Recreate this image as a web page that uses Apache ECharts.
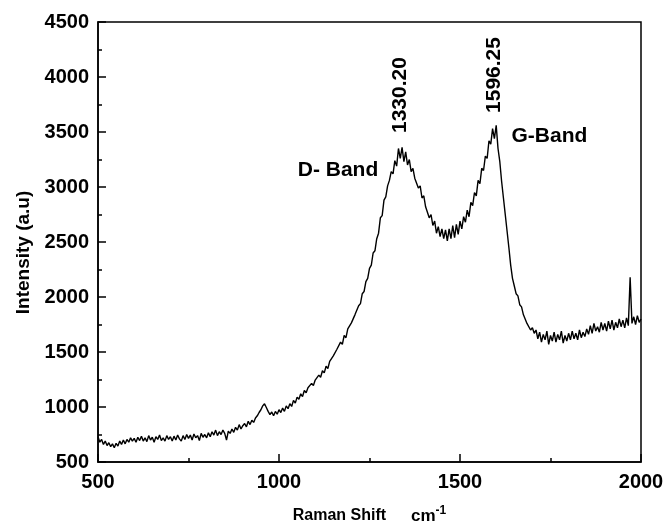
<!DOCTYPE html>
<html>
<head>
<meta charset="utf-8">
<script src="https://cdn.jsdelivr.net/npm/echarts@6/dist/echarts.min.js"></script>
<style>
html,body{margin:0;padding:0;background:#fff;}
#chart{width:667px;height:521px;}
</style>
</head>
<body>
<div id="chart"></div>
<script>
// Raman shift sampling (cm-1): first value and spacing of the intensity readings
const shiftStart = 500;
const shiftStep = 5;

// Intensity readings (a.u.) every 5 cm-1 from 500 to 2000
const intensity500_600 = [730,680,705,660,690,650,675,640,665,630,670,645,690,660,700,665,705,680,720,690,715];
const intensity600_700 = [680,725,695,735,690,720,685,740,700,725,680,730,705,745,695,720,690,740,705,730];
const intensity700_800 = [690,735,700,745,710,690,740,705,750,715,745,700,755,720,740,695,760,725,750,720];
const intensity800_900 = [765,730,775,745,790,740,775,750,790,760,700,780,760,800,770,815,790,840,800,830];
const intensity900_1000 = [850,820,870,840,880,860,900,920,950,975,1010,1030,995,960,930,955,920,960,935,975];
const intensity1000_1100 = [950,990,960,1010,985,1030,1005,1060,1035,1090,1070,1120,1095,1150,1130,1175,1160,1215,1195,1245];
const intensity1100_1200 = [1230,1290,1270,1330,1310,1370,1350,1415,1400,1465,1450,1525,1510,1590,1570,1650,1630,1710,1700,1765];
const intensity1200_1300 = [1780,1840,1845,1920,1940,2030,2050,2140,2170,2260,2290,2400,2420,2530,2580,2720,2740,2880,2910,3010];
const intensity1300_1400 = [3060,3140,3120,3240,3190,3350,3260,3360,3230,3320,3200,3250,3140,3170,3080,3090,2990,3010,2900,2920];
const intensity1400_1500 = [2820,2830,2720,2750,2650,2690,2580,2640,2550,2620,2530,2610,2510,2620,2530,2650,2540,2660,2570,2690];
const intensity1500_1600 = [2620,2730,2680,2790,2730,2860,2830,2950,2920,3060,3030,3170,3150,3280,3260,3420,3390,3530,3440,3560];
const intensity1600_1700 = [3350,3230,3050,2900,2750,2600,2450,2290,2170,2100,2030,2010,1930,1910,1840,1830,1760,1770,1700,1720];
const intensity1700_1800 = [1670,1700,1620,1680,1590,1660,1610,1690,1570,1650,1600,1680,1590,1660,1610,1690,1580,1650,1600,1670];
const intensity1800_1900 = [1610,1690,1620,1670,1610,1700,1630,1680,1640,1710,1660,1740,1670,1760,1690,1730,1680,1770,1700,1760];
const intensity1900_2000 = [1690,1780,1710,1790,1700,1770,1720,1800,1730,1790,1720,1810,1740,2180,1760,1820,1750,1830,1770,1800];

// Axis ticks
const xTicks = [500, 1000, 1500, 2000];
const yTicks = [500, 1000, 1500, 2000, 2500, 3000, 3500, 4000, 4500];

// Annotations: [shift, intensity, text, rotated]
const annotations = [
  [1163, 3155, 'D- Band', false],
  [1747, 3464, 'G-Band', false],
  [1334, 3836, '1330.20', true],
  [1594, 4018, '1596.25', true]
];

const intensity = [].concat(
  intensity500_600, intensity600_700, intensity700_800, intensity800_900,
  intensity900_1000, intensity1000_1100, intensity1100_1200, intensity1200_1300,
  intensity1300_1400, intensity1400_1500, intensity1500_1600, intensity1600_1700,
  intensity1700_1800, intensity1800_1900, intensity1900_2000
);
const spectrum = intensity.map((v, i) => [shiftStart + i * shiftStep, v]);

const FONT = '"Liberation Sans", Arial, sans-serif';
const chart = echarts.init(document.getElementById('chart'), null, {renderer: 'canvas'});

chart.setOption({
  animation: false,
  backgroundColor: '#fff',
  grid: {
    left: 98, right: 26, top: 22, bottom: 59,
    containLabel: false, outerBoundsMode: 'none',
    show: true, borderColor: '#000', borderWidth: 1.5, backgroundColor: 'transparent'
  },
  xAxis: {
    type: 'value',
    min: xTicks[0], max: xTicks[xTicks.length - 1], interval: xTicks[1] - xTicks[0],
    name: 'Raman Shift{cm|cm}{sup|-1}',
    nameLocation: 'middle',
    nameGap: 43,
    nameTextStyle: {
      fontFamily: FONT, fontWeight: 'bold', fontSize: 16, color: '#000', lineHeight: 22,
      rich: {
        cm: { fontFamily: FONT, fontWeight: 'bold', fontSize: 17, color: '#000', lineHeight: 22, padding: [0, 0, 0, 25] },
        sup: { fontFamily: FONT, fontWeight: 'bold', fontSize: 12, color: '#000', lineHeight: 22, verticalAlign: 'top', padding: [0, 0, 8, 0] }
      }
    },
    axisLine: { lineStyle: { color: '#000', width: 1.5 } },
    axisTick: { inside: true, length: 8, lineStyle: { color: '#000', width: 1.5 } },
    minorTick: { show: true, splitNumber: 2, length: 4, lineStyle: { color: '#000', width: 1.5 } },
    splitLine: { show: false },
    axisLabel: { fontFamily: FONT, fontWeight: 'bold', fontSize: 20, color: '#000', margin: 10, formatter: v => String(v) }
  },
  yAxis: {
    type: 'value',
    min: yTicks[0], max: yTicks[yTicks.length - 1], interval: yTicks[1] - yTicks[0],
    name: 'Intensity (a.u)',
    nameLocation: 'middle',
    nameRotate: 90,
    nameGap: 65,
    nameTextStyle: { fontFamily: FONT, fontWeight: 'bold', fontSize: 19, color: '#000', padding: [0, 21, 0, 0] },
    axisLine: { show: true, lineStyle: { color: '#000', width: 1.5 } },
    axisTick: { show: true, inside: true, length: 8, lineStyle: { color: '#000', width: 1.5 } },
    minorTick: { show: true, splitNumber: 2, length: 4, lineStyle: { color: '#000', width: 1.5 } },
    splitLine: { show: false },
    axisLabel: { fontFamily: FONT, fontWeight: 'bold', fontSize: 20, color: '#000', margin: 9, formatter: v => String(v) }
  },
  series: [
    {
      type: 'line',
      data: spectrum,
      showSymbol: false,
      symbol: 'none',
      lineStyle: { color: '#000', width: 1.4 },
      z: 3
    },
    {
      type: 'scatter',
      symbolSize: 0,
      silent: true,
      itemStyle: { opacity: 1 },
      data: annotations.map(a => ({
        value: [a[0], a[1]],
        name: a[2],
        label: { rotate: a[3] ? 90 : 0 }
      })),
      label: {
        show: true, position: 'inside', formatter: '{b}', opacity: 1,
        fontFamily: FONT, fontWeight: 'bold', fontSize: 21, color: '#000'
      },
      z: 4
    }
  ]
});
</script>
</body>
</html>
